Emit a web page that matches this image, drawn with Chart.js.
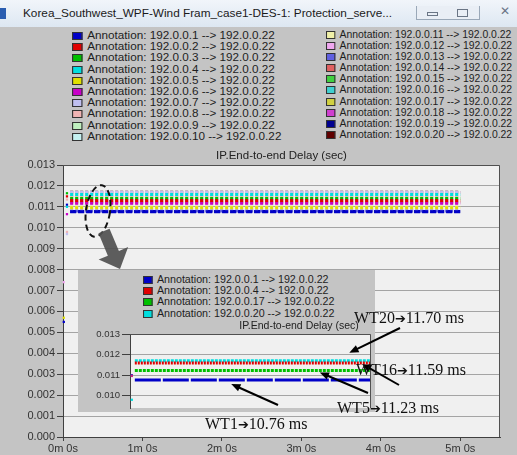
<!DOCTYPE html>
<html>
<head>
<meta charset="utf-8">
<script src="https://cdn.jsdelivr.net/npm/chart.js@4.4.1/dist/chart.umd.min.js"></script>
<style>
html, body { margin: 0; padding: 0; }
body { width: 517px; height: 455px; position: relative; overflow: hidden; background: #c4c4c4; font-family: "Liberation Sans", Arial, sans-serif; }
#titlebar { position: absolute; left: 0; top: 0; width: 517px; height: 27px; background: linear-gradient(#f1f5fa, #dde7f2); }
#titlebar .icon { position: absolute; left: 0; top: 8px; width: 6px; height: 11px; background: #2a5db0; }
#titlebar .txt { position: absolute; left: 23px; top: 6px; font-size: 11.8px; color: #1a1a1a; white-space: nowrap; }
#titlebar .btns { position: absolute; left: 416px; top: 6px; width: 62px; height: 13px; border: 1px solid #9aa8b8; border-top: none; background: #e9eef5; }
#titlebar .btns span { position: absolute; top: 3px; width: 9px; height: 6px; border: 1px solid #6a7585; }
#titlebar .close { position: absolute; left: 500px; top: 4px; font-size: 12px; color: #6a7585; }
.legend { position: absolute; font-size: 10px; color: #1e1e1e; transform-origin: left top; }
#legend-left { transform: scaleX(1.17); }
#legend-right { transform: scaleX(1.04); }
#legend-inset { transform: scaleX(1.07); }
.legend div { height: 11.2px; line-height: 11.2px; white-space: nowrap; }
.legend i { display: inline-block; width: 7px; height: 6px; border: 1px solid #333; margin-right: 4px; vertical-align: -1px; }
canvas { position: absolute; }
#inset-box { position: absolute; left: 78px; top: 270px; width: 297px; height: 142px; background: #c4c4c4; }
.callout { position: absolute; font-family: "Liberation Serif", "Times New Roman", serif; font-size: 16px; line-height: 18px; color: #111; white-space: nowrap; }
.callout b { font-family: "DejaVu Sans", sans-serif; font-size: 13px; font-weight: normal; }
</style>
</head>
<body>
<div id="titlebar">
  <div class="icon"></div>
  <div class="txt">Korea_Southwest_WPF-Wind Fram_case1-DES-1: Protection_serve...</div>
  <div class="btns"><span style="left:10px;height:2px;top:6px"></span><span style="left:40px"></span></div>
  <div class="close">&#x2715;</div>
</div>
<div id="legend-left" class="legend" style="left:72px;top:30px"></div>
<div id="legend-right" class="legend" style="left:326px;top:28.5px"></div>

<canvas id="main" width="517" height="310" style="left:0;top:145px"></canvas>
<div id="inset-box">
  <div id="legend-inset" class="legend" style="left:65px;top:4px"></div>
</div>
<canvas id="inset" width="297" height="142" style="left:78px;top:270px"></canvas>
<canvas id="overlay" width="517" height="455" style="left:0;top:0"></canvas>

<div class="callout" style="left:354px;top:309px">WT20<b>&#x2794;</b>11.70 ms</div>
<div class="callout" style="left:356px;top:361px">WT16<b>&#x2794;</b>11.59 ms</div>
<div class="callout" style="left:337px;top:399px">WT5<b>&#x2794;</b>11.23 ms</div>
<div class="callout" style="left:205px;top:415px">WT1<b>&#x2794;</b>10.76 ms</div>

<script>
// 20 flows, all towards 192.0.0.22
const sources = ['192.0.0.1','192.0.0.2','192.0.0.3','192.0.0.4','192.0.0.5','192.0.0.6','192.0.0.7','192.0.0.8','192.0.0.9','192.0.0.10',
                 '192.0.0.11','192.0.0.12','192.0.0.13','192.0.0.14','192.0.0.15','192.0.0.16','192.0.0.17','192.0.0.18','192.0.0.19','192.0.0.20'];
const seriesColors = ['#0000c8','#e00000','#00c000','#00dede','#e0e000','#c800c8','#c0c0f0','#f0b4b4','#c0f0c0','#c4f0f0',
                      '#f0f0a8','#f0a8f0','#6060e0','#e06060','#40d040','#40d0d0','#d0d040','#d040d0','#000090','#600000'];
// steady end-to-end delay of each flow (sec)
const meanDelay = [0.01076, 0.01130, 0.01140, 0.01159, 0.01096, 0.01120, 0.01170, 0.01150, 0.01146, 0.01162,
                   0.01100, 0.01168, 0.01080, 0.01125, 0.01138, 0.01156, 0.01123, 0.01115, 0.01078, 0.01170];
const lineStart = 0.09;   // minutes
const lineEnd = 5.0;
// first samples before the delay settles
const earlyTime  = [0.01, 0.01, 0.01, 0.05, 0.05, 0.05, 0.05, 0.05, 0.05, 0.05, 0.05];
const earlyDelay = [0.0074, 0.0057, 0.0055, 0.01165, 0.0115, 0.01135, 0.0111, 0.0110, 0.01065, 0.0098, 0.0097];
const earlyColor = ['#f0a8f0','#e0e000','#0000c8','#00c000','#e00000','#f0b4b4','#0000c8','#00dede','#c800c8','#f0b4b4','#c0c0f0'];
const xTicks = [0, 1, 2, 3, 4, 5];

// zoomed view: four flows
const insetIdx = [0, 3, 16, 19];
const insetColors = ['#0000c8','#e00000','#00c000','#00dede'];
const insetDelay = [0.01076, 0.01159, 0.01123, 0.01170];
const insetDash = [[26, 2], [2, 1], [3, 1], [3, 1]];
const insetStart = 0.08, insetEnd = 4.5;
const insetEarlyTime = [0.03, 0.03, 0.03];
const insetEarlyDelay = [0.01100, 0.01096, 0.0098];
const insetEarlyColor = ['#3030c0', '#d02080', '#00dede'];
const insetYTicks = [0.010, 0.011, 0.012, 0.013];

// callouts: text value -> pointed flow in the zoomed view
const calloutFlow = [3, 1, 2, 0];       // WT20, WT16, WT5, WT1
const calloutAt   = [3.64, 3.85, 3.15, 1.68];
const calloutOff  = [-8, 1, 2, 4];
const calloutTail = [[400, 328], [399, 385], [368, 393], [278, 405]];

const tickFont = { family: '"Liberation Sans", Arial, sans-serif', size: 11 };

function makeLegend(el, idxs, colors) {
  idxs.forEach((k, j) => {
    const row = document.createElement('div');
    row.innerHTML = `<i style="background:${colors[j]}"></i>Annotation: ${sources[k]} --&gt; 192.0.0.22`;
    el.appendChild(row);
  });
}
makeLegend(document.getElementById('legend-left'), [0,1,2,3,4,5,6,7,8,9], seriesColors.slice(0, 10));
makeLegend(document.getElementById('legend-right'), [10,11,12,13,14,15,16,17,18,19], seriesColors.slice(10));
makeLegend(document.getElementById('legend-inset'), insetIdx, insetColors);

function plotFrame(title, titleX, titleSize) {
  return {
    id: 'plotFrame',
    beforeDraw(chart) {
      const a = chart.chartArea, ctx = chart.ctx;
      ctx.save();
      ctx.fillStyle = '#f0f0f0';
      ctx.fillRect(a.left, a.top, a.right - a.left, a.bottom - a.top);
      ctx.restore();
    },
    afterDraw(chart) {
      const a = chart.chartArea, ctx = chart.ctx;
      ctx.save();
      ctx.strokeStyle = '#505050';
      ctx.lineWidth = 1;
      ctx.beginPath();
      ctx.moveTo(a.left, a.top + 0.5);
      ctx.lineTo(a.right - 0.5, a.top + 0.5);
      ctx.lineTo(a.right - 0.5, a.bottom);
      ctx.stroke();
      ctx.fillStyle = '#222';
      ctx.font = titleSize + 'px "Liberation Sans", Arial, sans-serif';
      ctx.textAlign = 'center';
      ctx.textBaseline = 'bottom';
      ctx.fillText(title, titleX(a), a.top - 3);
      ctx.restore();
    }
  };
}

const mainSets = sources.map((s, i) => ({
  label: s,
  data: [{ x: lineStart, y: meanDelay[i] }, { x: lineEnd, y: meanDelay[i] }],
  borderColor: seriesColors[i],
  borderWidth: 3,
  borderDash: i === 0 || i === 18 ? [6, 2] : [3, 2],
  pointRadius: 0
}));
mainSets.push({
  label: 'first samples',
  data: earlyTime.map((t, i) => ({ x: t, y: earlyDelay[i] })),
  showLine: false,
  pointStyle: 'rect',
  pointRadius: 1.6,
  pointBorderWidth: 0,
  pointBackgroundColor: earlyColor,
  clip: false
});

const mainChart = new Chart(document.getElementById('main'), {
  type: 'line',
  data: { datasets: mainSets },
  options: {
    responsive: false,
    animation: false,
    layout: { padding: { top: 20, right: 17, left: 0, bottom: 0 } },
    plugins: { legend: { display: false }, tooltip: { enabled: false } },
    scales: {
      x: {
        type: 'linear', min: 0, max: 5.5,
        afterBuildTicks: s => { s.ticks = xTicks.map(v => ({ value: v })); },
        afterFit: s => { s.height = 18; },
        ticks: { font: tickFont, color: '#333', padding: 1, maxRotation: 0, callback: v => v + 'm 0s' },
        grid: { drawOnChartArea: false, tickLength: 4, color: '#404040' },
        border: { color: '#404040' }
      },
      y: {
        min: 0, max: 0.013,
        afterFit: s => { s.width = 63; },
        ticks: { stepSize: 0.001, font: tickFont, color: '#333', padding: 2, callback: v => v.toFixed(3) },
        grid: { color: '#a4a4a4', tickColor: '#404040', tickLength: 6 },
        border: { color: '#404040' }
      }
    }
  },
  plugins: [plotFrame('IP.End-to-end Delay (sec)', a => (a.left + a.right) / 2, 11.5)]
});

const insetSets = insetDelay.map((v, j) => ({
  label: sources[insetIdx[j]],
  data: [{ x: insetStart, y: v }, { x: insetEnd, y: v }],
  borderColor: insetColors[j],
  borderWidth: 3,
  borderDash: insetDash[j],
  pointRadius: 0
}));
insetSets.push({
  label: 'first samples',
  data: insetEarlyTime.map((t, i) => ({ x: t, y: insetEarlyDelay[i] })),
  showLine: false,
  pointStyle: 'rect',
  pointRadius: 1.6,
  pointBorderWidth: 0,
  pointBackgroundColor: insetEarlyColor
});

const insetChart = new Chart(document.getElementById('inset'), {
  type: 'line',
  data: { datasets: insetSets },
  options: {
    responsive: false,
    animation: false,
    layout: { padding: { top: 64, right: 0, left: 0, bottom: 0 } },
    plugins: { legend: { display: false }, tooltip: { enabled: false } },
    scales: {
      x: { type: 'linear', min: 0, max: 4, display: false },
      y: {
        min: 0.0094, max: 0.013,
        afterBuildTicks: s => { s.ticks = insetYTicks.map(v => ({ value: v })); },
        afterFit: s => { s.width = 52; s.paddingTop = 0; s.paddingBottom = 0; },
        ticks: { font: { family: tickFont.family, size: 9.5 }, color: '#333', padding: 2, callback: v => v.toFixed(3) },
        grid: { color: '#a4a4a4', tickColor: '#404040', tickLength: 8 },
        border: { color: '#404040' }
      }
    }
  },
  plugins: [plotFrame('IP.End-to-end Delay (sec)', a => a.left + 169, 10.5)]
});

// decorations: dashed ellipse, big arrow, callout arrows
const ov = document.getElementById('overlay').getContext('2d');
ov.save();
ov.strokeStyle = '#111';
ov.lineWidth = 2;
ov.setLineDash([6, 4]);
ov.beginPath();
ov.ellipse(98, 211, 12, 26, 0.15, 0, Math.PI * 2);
ov.stroke();
ov.restore();

(function bigArrow() {
  const x0 = 104, y0 = 231, x1 = 120, y1 = 269;
  const len = Math.hypot(x1 - x0, y1 - y0);
  const ux = (x1 - x0) / len, uy = (y1 - y0) / len, px = -uy, py = ux;
  const headLen = 17, bw = 6, hw = 16;
  const bx = x1 - ux * headLen, by = y1 - uy * headLen;
  ov.save();
  ov.fillStyle = 'rgba(80,80,80,0.92)';
  ov.beginPath();
  ov.moveTo(x0 + px * bw, y0 + py * bw);
  ov.lineTo(bx + px * bw, by + py * bw);
  ov.lineTo(bx + px * hw, by + py * hw);
  ov.lineTo(x1, y1);
  ov.lineTo(bx - px * hw, by - py * hw);
  ov.lineTo(bx - px * bw, by - py * bw);
  ov.lineTo(x0 - px * bw, y0 - py * bw);
  ov.closePath();
  ov.fill();
  ov.restore();
})();

function arrow(tx, ty, hx, hy) {
  const a = Math.atan2(hy - ty, hx - tx);
  ov.save();
  ov.strokeStyle = '#000';
  ov.fillStyle = '#000';
  ov.lineWidth = 2;
  ov.beginPath();
  ov.moveTo(tx, ty);
  ov.lineTo(hx - Math.cos(a) * 6, hy - Math.sin(a) * 6);
  ov.stroke();
  ov.beginPath();
  ov.moveTo(hx, hy);
  ov.lineTo(hx - Math.cos(a - 0.4) * 10, hy - Math.sin(a - 0.4) * 10);
  ov.lineTo(hx - Math.cos(a + 0.4) * 10, hy - Math.sin(a + 0.4) * 10);
  ov.closePath();
  ov.fill();
  ov.restore();
}
const insetLeft = 78, insetTop = 270;
calloutFlow.forEach((j, k) => {
  const hx = insetLeft + insetChart.scales.x.getPixelForValue(calloutAt[k]);
  const hy = insetTop + insetChart.scales.y.getPixelForValue(insetDelay[j]) + calloutOff[k];
  arrow(calloutTail[k][0], calloutTail[k][1], hx, hy);
});
</script>
</body>
</html>
